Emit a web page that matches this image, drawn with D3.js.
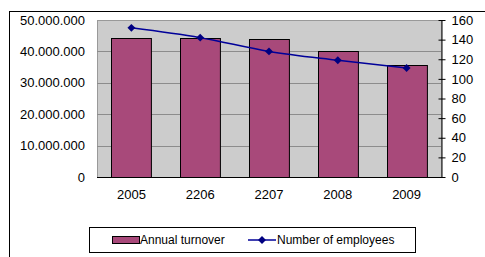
<!DOCTYPE html>
<html>
<head>
<meta charset="utf-8">
<script src="https://cdn.jsdelivr.net/npm/d3@7"></script>
<style>
  body { margin: 0; background: #fff; }
  text { font-family: Arial, "Liberation Sans", sans-serif; fill: #000; }
</style>
</head>
<body>
<div id="chart"></div>
<script>
// Data
const years = ["2005", "2206", "2207", "2008", "2009"];
const turnover = [44400000, 44400000, 43900000, 40000000, 35600000];
const employees = [152, 142, 128, 119, 111];
const leftTicks = [0, 10000000, 20000000, 30000000, 40000000, 50000000];
const rightTicks = [0, 20, 40, 60, 80, 100, 120, 140, 160];

const W = 485, H = 257;
const plot = { left: 97, right: 441, top: 20, bottom: 177 };

const svg = d3.select("#chart").append("svg")
    .attr("width", W)
    .attr("height", H);

// outer chart frame (runs off the right and bottom)
svg.append("rect")
    .attr("x", 9.5).attr("y", 11.5)
    .attr("width", 600).attr("height", 400)
    .attr("fill", "#fff")
    .attr("stroke", "#000");

const x = d3.scaleBand()
    .domain(years)
    .range([plot.left, plot.right])
    .paddingInner(0.42)
    .paddingOuter(0.21);

const yL = d3.scaleLinear().domain([0, 50000000]).range([plot.bottom, plot.top]);
const yR = d3.scaleLinear().domain([0, 160]).range([plot.bottom, plot.top]);

// plot area
svg.append("rect")
    .attr("x", plot.left + 0.5).attr("y", plot.top + 0.5)
    .attr("width", plot.right - plot.left).attr("height", plot.bottom - plot.top)
    .attr("fill", "#cccccc")
    .attr("stroke", "#999");

// gridlines
svg.append("g")
    .selectAll("line")
    .data(leftTicks.slice(1, -1))
    .join("line")
      .attr("x1", plot.left).attr("x2", plot.right)
      .attr("y1", d => Math.round(yL(d)) + 0.5)
      .attr("y2", d => Math.round(yL(d)) + 0.5)
      .attr("stroke", "#8c8c8c");

// bars
svg.append("g")
    .selectAll("rect")
    .data(turnover)
    .join("rect")
      .attr("x", (d, i) => Math.round(x(years[i])) + 0.5)
      .attr("y", d => Math.round(yL(d)) + 0.5)
      .attr("width", x.bandwidth())
      .attr("height", d => plot.bottom - Math.round(yL(d)))
      .attr("fill", "#a8497a")
      .attr("stroke", "#000")
      .attr("stroke-width", 1);

// bottom axis line
svg.append("line")
    .attr("x1", plot.left).attr("x2", plot.right + 1)
    .attr("y1", plot.bottom + 0.5).attr("y2", plot.bottom + 0.5)
    .attr("stroke", "#000");

// left axis labels (no ticks)
const fmt = d => d3.format(",")(d).replace(/,/g, ".");
svg.append("g")
    .selectAll("text")
    .data(leftTicks)
    .join("text")
      .attr("x", 85)
      .attr("y", d => yL(d))
      .attr("dy", "0.35em")
      .attr("text-anchor", "end")
      .style("font-size", "13px")
      .text(fmt);

// right axis
const axisR = d3.axisRight(yR)
    .tickValues(rightTicks)
    .tickSize(0)
    .tickPadding(10);
const gR = svg.append("g")
    .attr("transform", `translate(${plot.right + 0.5},0)`)
    .call(axisR);
gR.select(".domain").attr("stroke", "#000");
gR.selectAll(".tick line").remove();
gR.selectAll(".tick").append("line")
    .attr("x1", -3).attr("x2", 4)
    .attr("stroke", "#000");
gR.selectAll(".tick text")
    .attr("font-family", null)
    .style("font-size", "13px")
    .attr("fill", "#000");
gR.attr("font-size", null);

// x labels
svg.append("g")
    .selectAll("text")
    .data(years)
    .join("text")
      .attr("x", d => x(d) + x.bandwidth() / 2)
      .attr("y", 194)
      .attr("dy", "0.35em")
      .attr("text-anchor", "middle")
      .style("font-size", "13px")
      .text(d => d);

// employees line
const cx = i => x(years[i]) + x.bandwidth() / 2;
const line = d3.line()
    .x((d, i) => cx(i))
    .y(d => yR(d))
    .curve(d3.curveMonotoneX);

svg.append("path")
    .datum(employees)
    .attr("d", line)
    .attr("fill", "none")
    .attr("stroke", "#000099")
    .attr("stroke-width", 1.5);

const diamond = d3.symbol().type(d3.symbolDiamond2).size(40);
svg.append("g")
    .selectAll("path")
    .data(employees)
    .join("path")
      .attr("transform", (d, i) => `translate(${cx(i)},${yR(d)})`)
      .attr("d", diamond)
      .attr("fill", "#000080");

// legend
const lg = svg.append("g");
lg.append("rect")
    .attr("x", 89.5).attr("y", 227.5)
    .attr("width", 326).attr("height", 25)
    .attr("fill", "#fff")
    .attr("stroke", "#000");
lg.append("rect")
    .attr("x", 112.5).attr("y", 236.5)
    .attr("width", 27).attr("height", 7)
    .attr("fill", "#a8497a")
    .attr("stroke", "#000");
lg.append("text")
    .attr("x", 140).attr("y", 240).attr("dy", "0.35em")
    .style("font-size", "12px")
    .text("Annual turnover");
lg.append("line")
    .attr("x1", 248).attr("x2", 276)
    .attr("y1", 240).attr("y2", 240)
    .attr("stroke", "#000099")
    .attr("stroke-width", 1.5);
lg.append("path")
    .attr("transform", "translate(262,240)")
    .attr("d", diamond)
    .attr("fill", "#000080");
lg.append("text")
    .attr("x", 277).attr("y", 240).attr("dy", "0.35em")
    .style("font-size", "12px")
    .text("Number of employees");
</script>
</body>
</html>
